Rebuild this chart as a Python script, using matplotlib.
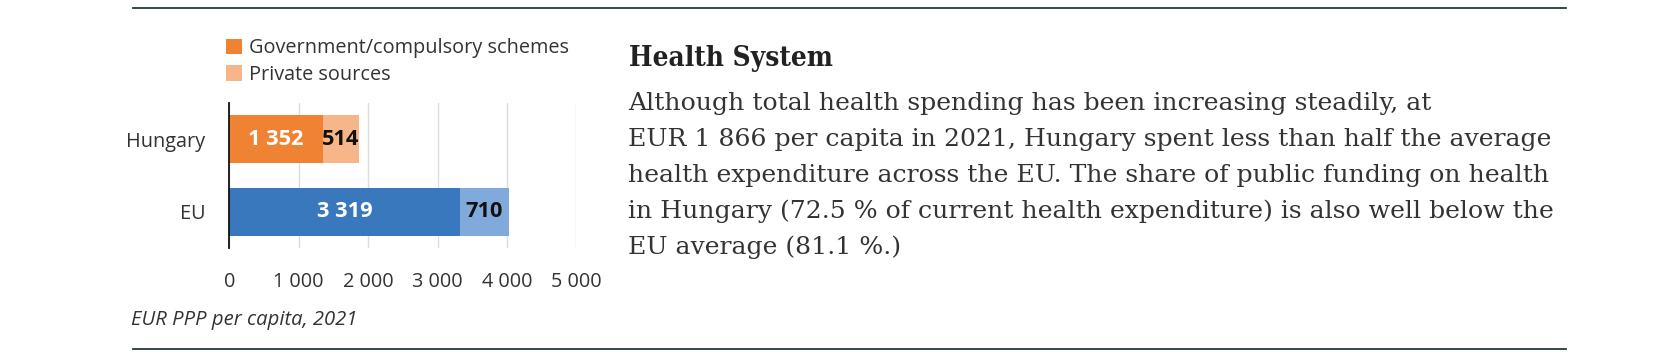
import matplotlib
matplotlib.use("Agg")
import matplotlib.pyplot as plt
from matplotlib.ticker import FuncFormatter

categories = ["Hungary", "EU"]
gov_values = [1352, 3319]
priv_values = [514, 710]
series_labels = ["Government/compulsory schemes", "Private sources"]
xticks = [0, 1000, 2000, 3000, 4000, 5000]
caption = "EUR PPP per capita, 2021"
title = "Health System"
body_lines = [
    "Although total health spending has been increasing steadily, at",
    "EUR 1 866 per capita in 2021, Hungary spent less than half the average",
    "health expenditure across the EU. The share of public funding on health",
    "in Hungary (72.5 % of current health expenditure) is also well below the",
    "EU average (81.1 %.)",
]

W, H = 1655, 362
DPI = 100
fig = plt.figure(figsize=(W / DPI, H / DPI), dpi=DPI)
fig.patch.set_facecolor("white")
renderer = fig.canvas.get_renderer()

def fx(x):
    return x / W

def fy(y):
    return 1 - y / H

def measure(s, **kw):
    t = fig.text(0, 0, s, **kw)
    bb = t.get_window_extent(renderer)
    t.remove()
    return bb.width

def fit_size(s, target, base=12, **kw):
    w = measure(s, fontsize=base, **kw)
    return base * target / w

SANS = "Open Sans"
SERIF = "DejaVu Serif"
txt_col = "#333333"

# chart axes
ax_left, ax_right, ax_top, ax_bot = 229.3, 576.3, 103, 248
ax = fig.add_axes([fx(ax_left), fy(ax_bot), (ax_right - ax_left) / W, (ax_bot - ax_top) / H])
ax.set_xlim(0, 5000)
ax.set_ylim(1.5, -0.5)

gov_colors = ["#F08333", "#3A78BD"]
priv_colors = ["#F7B68A", "#80AADB"]
ypos = list(range(len(categories)))
bh = 0.66
b1 = ax.barh(ypos, gov_values, height=bh, color=gov_colors, zorder=3)
b2 = ax.barh(ypos, priv_values, left=gov_values, height=bh, color=priv_colors, zorder=3)

val_fs = fit_size("1 352", 55, fontfamily=SANS, fontweight="bold")
def fmt(v):
    return f"{v:,.0f}".replace(",", " ")
for i in ypos:
    ax.text(gov_values[i] / 2, i, fmt(gov_values[i]), ha="center", va="center",
            color="white", fontsize=val_fs, fontweight="bold", fontfamily=SANS, zorder=4)
    ax.text(gov_values[i] + priv_values[i] / 2, i, fmt(priv_values[i]), ha="center", va="center",
            color="#111111", fontsize=val_fs, fontweight="bold", fontfamily=SANS, zorder=4)

lab_fs = fit_size(series_labels[0], 318, fontfamily=SANS)

ax.set_xticks(xticks)
ax.xaxis.set_major_formatter(FuncFormatter(lambda v, p: fmt(v)))
ax.set_yticks(ypos)
ax.set_yticklabels(categories)
ax.tick_params(axis="x", length=0, pad=17, labelsize=lab_fs, labelcolor=txt_col)
ax.tick_params(axis="y", length=0, pad=17, labelsize=lab_fs, labelcolor=txt_col)
for lbl in ax.get_xticklabels() + ax.get_yticklabels():
    lbl.set_fontfamily(SANS)
ax.grid(axis="x", color="#DCDCDC", linewidth=1.0, zorder=0)
ax.set_axisbelow(True)
for s in ["top", "right", "bottom"]:
    ax.spines[s].set_visible(False)
ax.spines["left"].set_color("#111111")
ax.spines["left"].set_linewidth(1.3)
ax.spines["left"].set_zorder(5)

# legend
handles = [b1.patches[0], b2.patches[0]]
leg = fig.legend(handles, series_labels, loc="upper left",
                 bbox_to_anchor=(fx(226), fy(38.5)), frameon=False,
                 prop={"family": SANS, "size": lab_fs},
                 handlelength=0.8, handleheight=0.8, handletextpad=0.35,
                 labelspacing=0.32, borderpad=0, borderaxespad=0)
for t in leg.get_texts():
    t.set_color(txt_col)

# caption
cap_fs = fit_size(caption, 226, fontfamily=SANS, style="italic")
fig.text(fx(131), fy(320), caption, fontsize=cap_fs, fontfamily=SANS, style="italic",
         color=txt_col, ha="left", va="center")

# right text block
body_fs = fit_size(body_lines[2], 918, fontfamily=SERIF)
title_fs = fit_size(title, 204, fontfamily=SERIF, fontweight="bold", fontstretch="condensed")
fig.text(fx(629), fy(65.7), title, fontsize=title_fs, fontfamily=SERIF, fontweight="bold",
         fontstretch="condensed", color="#222222", ha="left", va="baseline")
for i, line in enumerate(body_lines):
    fig.text(fx(628), fy(110 + 35.9 * i), line, fontsize=body_fs, fontfamily=SERIF,
             color="#333333", ha="left", va="baseline")

# horizontal rules
rule_col = "#1F3D3A"
fig.add_artist(plt.Line2D([fx(133), fx(1566)], [fy(7.5), fy(7.5)], color=rule_col, linewidth=1.3))
fig.add_artist(plt.Line2D([fx(133), fx(1566)], [fy(349), fy(349)], color=rule_col, linewidth=1.3))

fig.savefig("out.png", dpi=DPI, facecolor="white")
